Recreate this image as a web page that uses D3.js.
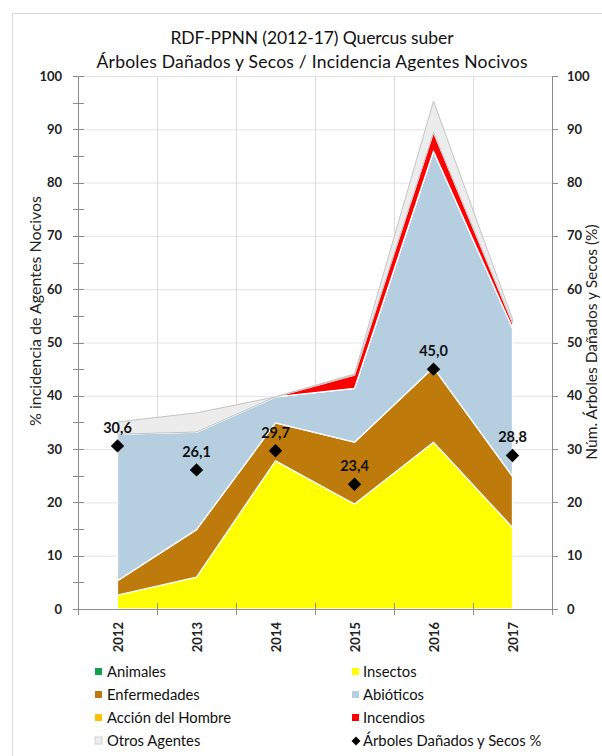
<!DOCTYPE html>
<html><head><meta charset="utf-8">
<script src="https://cdn.jsdelivr.net/npm/d3@7/dist/d3.min.js"></script>
<style>body{margin:0;background:#fff;} svg{display:block;}</style>
</head><body>
<svg id="c" width="602" height="756"></svg>
<script>
const years = ["2012","2013","2014","2015","2016","2017"];
const animales = [0, 0, 0, 0, 0, 0];
const insectos = [2.6, 6.0, 27.8, 19.7, 31.3, 15.3];
const enfermedades = [2.7, 8.9, 7.1, 11.6, 14.0, 9.6];
const abioticos = [27.5, 18.3, 4.9, 10.1, 40.6, 27.8];
const accionHombre = [0, 0, 0, 0, 0, 0];
const incendios = [0, 0, 0, 2.5, 3.5, 1.0];
const otros = [2.3, 3.6, 0, 0.2, 5.9, 0.7];
const danados = [30.6, 26.1, 29.7, 23.4, 45.0, 28.8];
const yTicks = [0,10,20,30,40,50,60,70,80,90,100];
const yMinorTicks = [5,15,25,35,45,55,65,75,85,95];

const seriesDefs = [
  {key:"Animales", values:animales, color:"#12a04f"},
  {key:"Insectos", values:insectos, color:"#ffff00"},
  {key:"Enfermedades", values:enfermedades, color:"#bf7a0c"},
  {key:"Abióticos", values:abioticos, color:"#b5cfe1"},
  {key:"Acción del Hombre", values:accionHombre, color:"#ffc000"},
  {key:"Incendios", values:incendios, color:"#ff0000"},
  {key:"Otros Agentes", values:otros, color:"#ececec"}
];
const legendOrder = ["Animales","Insectos","Enfermedades","Abióticos","Acción del Hombre","Incendios","Otros Agentes","Árboles Dañados y Secos %"];

const FONT = "Lato, 'Open Sans', sans-serif";
const svg = d3.select("#c");

// frame
svg.append("rect").attr("x",12.5).attr("y",13.5).attr("width",640).attr("height",800)
  .attr("fill","#fff").attr("stroke","#d9d9d9");

const x = d3.scaleBand().domain(years).range([78,552]).padding(0);
const y = d3.scaleLinear().domain([0,100]).range([609,76]);
const cx = d => x(d) + x.bandwidth()/2;

// grid
const g = svg.append("g");
g.selectAll("line.h").data(yTicks.filter(v=>v>0)).join("line")
  .attr("x1",78).attr("x2",552).attr("y1",d=>y(d)+0.5).attr("y2",d=>y(d)+0.5)
  .attr("stroke","#e3e3e3");
g.selectAll("line.v").data(years.slice(1)).join("line")
  .attr("x1",d=>Math.round(x(d))+0.5).attr("x2",d=>Math.round(x(d))+0.5).attr("y1",76).attr("y2",609)
  .attr("stroke","#dcdcdc");

// stacked areas
const table = years.map((yr,i)=>{ const o={year:yr}; seriesDefs.forEach(s=>o[s.key]=s.values[i]); return o; });
const stack = d3.stack().keys(seriesDefs.map(s=>s.key));
const layers = stack(table);
const area = d3.area().x(d=>cx(d.data.year)).y0(d=>y(d[0])).y1(d=>y(d[1]));
svg.append("g").selectAll("path").data(layers).join("path")
  .attr("d",area)
  .attr("fill",(d,i)=>seriesDefs[i].color)
  .attr("stroke",(d,i)=> seriesDefs[i].key==="Otros Agentes" ? "#c4c4c4" : "#ffffff")
  .attr("stroke-width",(d,i)=> seriesDefs[i].key==="Otros Agentes" ? 1 : 1.3)
  .attr("stroke-linejoin","round");

// axes
const ax = svg.append("g").attr("stroke","#8c8c8c").attr("stroke-width",1);
ax.append("line").attr("x1",78.5).attr("x2",78.5).attr("y1",76).attr("y2",609);
ax.append("line").attr("x1",552.5).attr("x2",552.5).attr("y1",76).attr("y2",609);
ax.append("line").attr("x1",78).attr("x2",553).attr("y1",609.5).attr("y2",609.5);
ax.selectAll("line.lt").data(yTicks.concat(yMinorTicks)).join("line")
  .attr("x1",73).attr("x2",84).attr("y1",d=>Math.round(y(d))+0.5).attr("y2",d=>Math.round(y(d))+0.5);
ax.selectAll("line.rt").data(yTicks).join("line")
  .attr("x1",552).attr("x2",558).attr("y1",d=>Math.round(y(d))+0.5).attr("y2",d=>Math.round(y(d))+0.5);
const bounds = years.map(d=>x(d)).concat([552]);
ax.selectAll("line.xt").data(bounds).join("line")
  .attr("x1",d=>Math.round(d)+0.5).attr("x2",d=>Math.round(d)+0.5).attr("y1",603).attr("y2",615);

// tick labels
const tl = svg.append("g").attr("font-family",FONT).attr("font-size",13).attr("font-weight","bold").attr("fill","#222");
tl.selectAll("text.l").data(yTicks).join("text")
  .attr("x",62).attr("y",d=>y(d)).attr("dy","0.35em").attr("text-anchor","end").text(d=>d);
tl.selectAll("text.r").data(yTicks).join("text")
  .attr("x",567).attr("y",d=>y(d)).attr("dy","0.35em").attr("text-anchor","start").text(d=>d);
tl.selectAll("text.x").data(years).join("text")
  .attr("transform",d=>`translate(${cx(d)+1},622) rotate(-90)`)
  .attr("dy","0.35em").attr("text-anchor","end").text(d=>d);

// axis titles
svg.append("text").attr("font-family",FONT).attr("font-size",16).attr("fill","#222")
  .attr("transform","translate(41,311) rotate(-90)").attr("text-anchor","middle")
  .text("% incidencia de Agentes Nocivos");
svg.append("text").attr("font-family",FONT).attr("font-size",15.5).attr("fill","#222")
  .attr("transform","translate(597,342) rotate(-90)").attr("text-anchor","middle")
  .text("Núm. Árboles Dañados y Secos (%)");

// title
const t = svg.append("g").attr("font-family",FONT).attr("font-size",17.5).attr("fill","#111").attr("text-anchor","middle");
t.append("text").attr("x",312).attr("y",44).attr("textLength",283).attr("lengthAdjust","spacing")
  .text("RDF-PPNN (2012-17) Quercus suber");
t.append("text").attr("x",312).attr("y",68).attr("textLength",431).attr("lengthAdjust","spacing")
  .text("Árboles Dañados y Secos / Incidencia Agentes Nocivos");

// diamonds
const diamond = d3.symbol().type(d3.symbolSquare).size(90);
const pts = svg.append("g");
pts.selectAll("path").data(years).join("path")
  .attr("d",diamond())
  .attr("transform",(d,i)=>`translate(${cx(d)},${y(danados[i])}) rotate(45)`)
  .attr("fill","#000");
pts.selectAll("text").data(years).join("text")
  .attr("font-family",FONT).attr("font-size",14.5).attr("font-weight","bold").attr("fill","#111")
  .attr("x",d=>cx(d)).attr("y",(d,i)=>y(danados[i])-13).attr("text-anchor","middle")
  .text((d,i)=>danados[i].toFixed(1).replace(".",","));

// legend
const lg = svg.append("g").attr("font-family",FONT).attr("font-size",14.8).attr("fill","#111");
legendOrder.forEach((name,i)=>{
  const col = i%2, row = Math.floor(i/2);
  const bx = col===0 ? 95 : 352, tx = col===0 ? 107 : 363;
  const by = 677 + row*23;
  const s = seriesDefs.find(d=>d.key===name);
  if (s) {
    lg.append("rect").attr("x",bx).attr("y",by-9).attr("width",7).attr("height",7)
      .attr("fill",s.color).attr("stroke", name==="Otros Agentes" ? "#cfcfcf" : "none");
  } else {
    lg.append("path").attr("d",d3.symbol().type(d3.symbolSquare).size(40)())
      .attr("transform",`translate(${bx+4},${by-5}) rotate(45)`).attr("fill","#000");
  }
  lg.append("text").attr("x",tx).attr("y",by).text(name);
});
</script>
</body></html>
